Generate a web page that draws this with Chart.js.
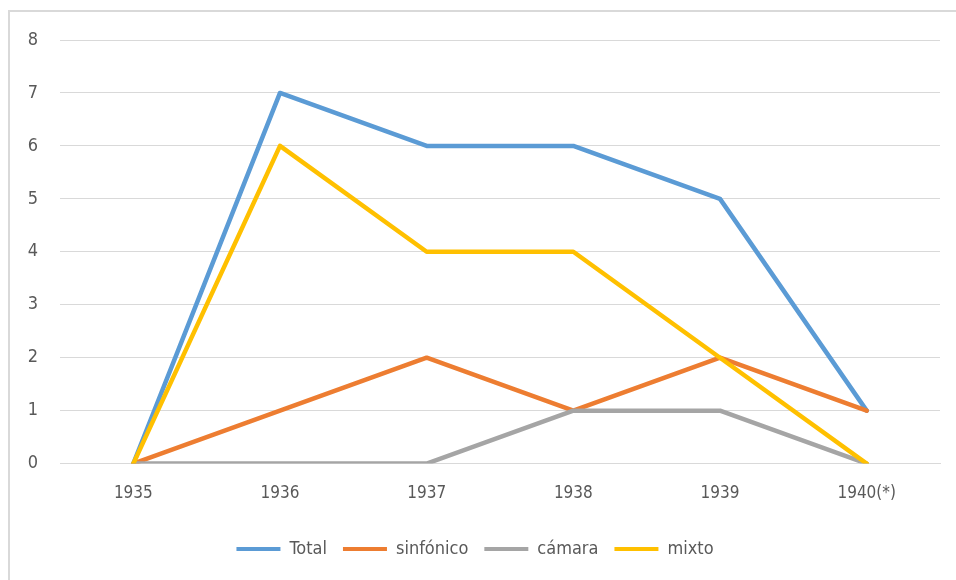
<!DOCTYPE html>
<html>
<head>
<meta charset="utf-8">
<script src="https://cdn.jsdelivr.net/npm/chart.js@4/dist/chart.umd.min.js"></script>
<style>
html,body{margin:0;padding:0;background:#fff;}
#wrap{position:relative;width:956px;height:580px;overflow:hidden;}
#frame{position:absolute;left:8px;top:10px;width:960px;height:590px;border-left:2px solid #d9d9d9;border-top:2px solid #d9d9d9;box-sizing:border-box;pointer-events:none;}
canvas{position:absolute;left:0;top:0;}
</style>
</head>
<body>
<div id="wrap">
<canvas id="c" width="956" height="580"></canvas>
<div id="frame"></div>
</div>
<script>
const categories = ['1935','1936','1937','1938','1939','1940(*)'];
const seriesNames = ['Total','sinfónico','cámara','mixto'];
const total = [0,7,6,6,5,1];
const sinfonico = [0,1,2,1,2,1];
const camara = [0,0,0,1,1,0];
const mixto = [0,6,4,4,2,0];
const yTicks = [0,1,2,3,4,5,6,7,8];

const colors = ['#5B9BD5','#ED7D31','#A5A5A5','#FFC000'];
const values = [total, sinfonico, camara, mixto];
const FONT = '"DejaVu Sans Condensed", "Liberation Sans Narrow", sans-serif';

const datasets = values.map((v,i)=>({
  label: seriesNames[i],
  data: v,
  borderColor: colors[i],
  backgroundColor: colors[i],
  borderWidth: 4.5,
  pointRadius: 0,
  pointHoverRadius: 0,
  tension: 0,
  borderJoinStyle: 'round',
  borderCapStyle: 'round',
  order: values.length - i
}));

new Chart(document.getElementById('c'), {
  type: 'line',
  data: { labels: categories, datasets },
  options: {
    responsive: false,
    animation: false,
    layout: { padding: { left: 10, right: 16, top: 40, bottom: 12 } },
    plugins: {
      tooltip: { enabled: false },
      legend: {
        position: 'bottom',
        labels: {
          boxWidth: 44,
          boxHeight: 4,
          padding: 16,
          color: '#595959',
          font: { family: FONT, size: 18 },
          sort: (a,b)=>a.datasetIndex-b.datasetIndex,
          generateLabels: (chart)=>Chart.defaults.plugins.legend.labels.generateLabels(chart).map(l=>Object.assign(l,{lineWidth:0}))
        }
      }
    },
    scales: {
      x: {
        offset: true,
        grid: { display: false, drawTicks: false },
        border: { display: true, color: '#d9d9d9', width: 1 },
        ticks: { color: '#595959', font: { family: FONT, size: 17 }, padding: 20, maxRotation: 0 }
      },
      y: {
        min: 0, max: 8,
        afterFit: s => { s.width = 50; },
        afterBuildTicks: s => { s.ticks = yTicks.map(v=>({value:v})); },
        grid: { color: '#d9d9d9', lineWidth: 1, drawTicks: false },
        border: { display: false },
        ticks: { color: '#595959', font: { family: FONT, size: 18 }, padding: 22, stepSize: 1 }
      }
    }
  }
});
</script>
</body>
</html>
